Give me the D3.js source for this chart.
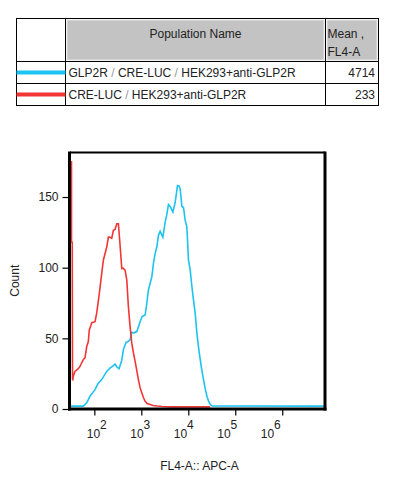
<!DOCTYPE html>
<html>
<head>
<meta charset="utf-8">
<script src="https://d3js.org/d3.v7.min.js"></script>
<style>
  body { margin: 0; background: #fff; }
  text { font-family: "Liberation Sans", Arial, sans-serif; }
</style>
</head>
<body>
<div id="my_dataviz"></div>
<script>

// populations shown in the table
var popNames = ["GLP2R / CRE-LUC / HEK293+anti-GLP2R", "CRE-LUC / HEK293+anti-GLP2R"]
var popMeans = ["4714", "233"]
var popColors = ["#1cc3f0", "#f23636"]

// histogram traces: x as log10(FL4-A), y as count
var cyanLog = [1.482,1.765,1.838,1.908,2.015,2.079,2.158,2.264,2.335,2.405,2.441,2.484,2.527,2.584,2.618,2.676,2.725,2.761,2.797,2.846,2.904,2.938,2.974,3.017,3.081,3.113,3.151,3.224,3.262,3.294,3.330,3.365,3.401,3.458,3.507,3.539,3.578,3.614,3.672,3.721,3.770,3.806,3.827,3.864,3.898,3.934,3.970,4.004,4.041,4.077,4.111,4.147,4.183,4.217,4.254,4.290,4.324,4.360,4.397,4.431,4.467,4.510,6.906]
var cyanCount = [2,2,4.4,9,13.7,18,20.8,26.6,29,30.6,31.8,29.6,28.5,34.5,41.9,47.2,47.9,48.9,54.2,53.9,54.8,58.1,61.8,65.4,66.5,73.6,84.2,93.5,103.9,110,114.6,122.9,125.7,121.5,132,137,144.7,143.3,139.3,146.3,158.1,157.7,155.8,143.3,142.6,133.5,128.7,105.3,98.2,86.5,77.1,67.7,53.7,44,34.9,27.1,20.8,14.4,9,5.6,3.2,2.1,2]

var redLog = [1.503,1.514,1.514,1.530,1.536,1.541,1.552,1.588,1.659,1.695,1.731,1.765,1.802,1.838,1.872,1.893,1.923,1.945,2.015,2.051,2.107,2.158,2.192,2.264,2.299,2.320,2.371,2.405,2.441,2.478,2.512,2.548,2.584,2.612,2.655,2.691,2.725,2.761,2.797,2.832,2.868,2.904,2.938,2.974,3.011,3.045,3.081,3.124,3.188,3.250,3.337,3.440,3.610,4.467]
var redCount = [175,175,118,118,21,20.8,23.1,26.6,28.5,30.1,32.7,34.9,36.3,44.2,47.7,56,58.8,61.1,61.8,68,82,96.1,105.3,114.6,121.7,121.7,120.8,126.4,127.1,131.1,131.1,115.8,99.4,99.6,98.2,91.2,72.4,58.3,46.6,39.8,33.7,27.1,20.8,15.1,11.4,8.1,5.5,3.9,3.2,2.5,2.1,1.8,1.5,1.5]

// axis ticks
var yMajor = [0, 50, 100, 150]
var yMinor = [10,20,30,40,60,70,80,90,110,120,130,140,160,170,180]
var xDecades = [2, 3, 4, 5, 6]

var W = 396, H = 483
var plot = {left: 70, right: 325, top: 152.5, bottom: 409}

var svg = d3.select("#my_dataviz")
  .append("svg")
    .attr("width", W)
    .attr("height", H)

// ---------- table ----------
var tbl = {x0: 16.5, x1: 65.5, x2: 325.5, x3: 378.5, y0: 18.5, y1: 61.5, y2: 83.5, y3: 105.5}
var t = svg.append("g")

// gray header cells
t.append("rect").attr("x", tbl.x1 + 1.5).attr("y", tbl.y0 + 1.5)
  .attr("width", tbl.x2 - tbl.x1 - 3).attr("height", tbl.y1 - tbl.y0 - 3)
  .attr("fill", "#c3c3c3").attr("stroke", "#e4e4e4").attr("stroke-width", 1)
t.append("rect").attr("x", tbl.x2 + 1.5).attr("y", tbl.y0 + 1.5)
  .attr("width", tbl.x3 - tbl.x2 - 3).attr("height", tbl.y1 - tbl.y0 - 3)
  .attr("fill", "#c3c3c3").attr("stroke", "#e4e4e4").attr("stroke-width", 1)

// grid
t.append("rect").attr("x", tbl.x0).attr("y", tbl.y0)
  .attr("width", tbl.x3 - tbl.x0).attr("height", tbl.y3 - tbl.y0)
  .attr("fill", "none").attr("stroke", "#000")
;[[tbl.x1, tbl.y0, tbl.x1, tbl.y3], [tbl.x2, tbl.y0, tbl.x2, tbl.y3],
  [tbl.x0, tbl.y1, tbl.x3, tbl.y1], [tbl.x0, tbl.y2, tbl.x3, tbl.y2]].forEach(function(l) {
  t.append("line").attr("x1", l[0]).attr("y1", l[1]).attr("x2", l[2]).attr("y2", l[3])
    .attr("stroke", "#000")
})

t.append("text").attr("x", (tbl.x1 + tbl.x2) / 2).attr("y", 37.5)
  .attr("text-anchor", "middle").style("font-size", "12px").attr("fill", "#222")
  .text("Population Name")
t.append("text").attr("x", tbl.x2 + 2).attr("y", 37.5)
  .style("font-size", "12px").attr("fill", "#222").text("Mean ,")
t.append("text").attr("x", tbl.x2 + 2).attr("y", 56)
  .style("font-size", "12px").attr("fill", "#222").text("FL4-A")

var rowY = [(tbl.y1 + tbl.y2) / 2, (tbl.y2 + tbl.y3) / 2]
popNames.forEach(function(name, i) {
  t.append("line")
    .attr("x1", tbl.x0).attr("x2", tbl.x1)
    .attr("y1", rowY[i]).attr("y2", rowY[i])
    .attr("stroke", popColors[i]).attr("stroke-width", 4)
  var txt = t.append("text").attr("x", tbl.x1 + 3).attr("y", rowY[i] + 4.5)
    .style("font-size", "12px").attr("fill", "#222")
  name.split(" / ").forEach(function(part, j) {
    if (j > 0) txt.append("tspan").attr("fill", "#999").text(" / ")
    txt.append("tspan").text(part)
  })
  t.append("text").attr("x", tbl.x3 - 3.5).attr("y", rowY[i] + 4.5)
    .attr("text-anchor", "end").style("font-size", "12px").attr("fill", "#222")
    .text(popMeans[i])
})

// ---------- histogram ----------
var x = d3.scaleLog()
  .domain([Math.pow(10, 1.482), Math.pow(10, 6.91)])
  .range([plot.left, plot.right])

var y = d3.scaleLinear()
  .domain([0, 181.5])
  .range([plot.bottom, plot.top])

// tick labels of this cytometer are spaced a bit tighter than the ticks
var xLabel = d3.scaleLog()
  .domain([100, 1e6])
  .range([x(100) - 7.6, x(1e6) - 21.5])

svg.append("clipPath").attr("id", "clip")
  .append("rect").attr("x", plot.left).attr("y", plot.top)
  .attr("width", plot.right - plot.left).attr("height", plot.bottom - plot.top)

var line = d3.line()
  .x(function(d) { return x(Math.pow(10, d[0])) })
  .y(function(d) { return y(d[1]) })

var series = [
  {color: popColors[0], pts: d3.zip(cyanLog, cyanCount)},
  {color: popColors[1], pts: d3.zip(redLog, redCount)}
]

svg.append("g").attr("clip-path", "url(#clip)")
  .selectAll("path")
  .data(series)
  .enter()
  .append("path")
    .attr("d", function(d) { return line(d.pts) })
    .attr("fill", "none")
    .attr("stroke", function(d) { return d.color })
    .attr("stroke-width", 1.6)

// Y axis
var yAx = svg.append("g").attr("transform", "translate(" + (plot.left - 0.5) + ",0)")
yAx.call(d3.axisLeft(y).tickValues(yMinor).tickSize(4).tickFormat(""))
yAx.call(d3.axisLeft(y).tickValues(yMajor).tickSize(7).tickPadding(4))
yAx.selectAll(".domain").remove()
yAx.selectAll("line").attr("stroke", "#000").attr("stroke-width", 1.2)
yAx.selectAll("text").style("font-size", "12px").attr("fill", "#222")
  .style("font-family", "'Liberation Sans', Arial, sans-serif")

// X axis
var xMinor = []
for (var e = 2; e <= 6; e++) {
  for (var m = 2; m <= 9; m++) {
    var v = m * Math.pow(10, e)
    if (v <= x.domain()[1]) xMinor.push(v)
  }
}
var xMajor = xDecades.map(function(k) { return Math.pow(10, k) })

var xAx = svg.append("g").attr("transform", "translate(0," + plot.bottom + ")")
xAx.call(d3.axisBottom(x).tickValues(xMinor).tickSize(4).tickFormat(""))
xAx.call(d3.axisBottom(x).tickValues(xMajor).tickSize(6.5).tickFormat(""))
xAx.selectAll(".domain").remove()
xAx.selectAll("line").attr("stroke", "#000").attr("stroke-width", 1.2)

var xl = svg.append("g")
xDecades.forEach(function(k) {
  var lab = xl.append("text")
    .attr("x", xLabel(Math.pow(10, k)))
    .attr("y", 437.5)
    .style("font-size", "12px").attr("fill", "#222")
  lab.append("tspan").text("10")
  lab.append("tspan").attr("dy", -8.5).text(k)
})

// frame
svg.append("line").attr("x1", plot.left).attr("x2", plot.right)
  .attr("y1", plot.top).attr("y2", plot.top).attr("stroke", "#000").attr("stroke-width", 2)
svg.append("line").attr("x1", plot.right).attr("x2", plot.right)
  .attr("y1", plot.top - 1).attr("y2", plot.bottom + 1.5).attr("stroke", "#000").attr("stroke-width", 3)
svg.append("line").attr("x1", plot.left - 0.5).attr("x2", plot.left - 0.5)
  .attr("y1", plot.top - 1).attr("y2", plot.bottom + 1.5).attr("stroke", "#000").attr("stroke-width", 3)
svg.append("line").attr("x1", plot.left - 2).attr("x2", plot.right + 1.5)
  .attr("y1", plot.bottom).attr("y2", plot.bottom).attr("stroke", "#000").attr("stroke-width", 3)

// axis titles
svg.append("text")
  .attr("transform", "translate(19," + ((plot.top + plot.bottom) / 2) + ") rotate(-90)")
  .attr("text-anchor", "middle").style("font-size", "12px").attr("fill", "#222")
  .text("Count")

svg.append("text")
  .attr("x", (plot.left + plot.right) / 2 + 2).attr("y", 469.5)
  .attr("text-anchor", "middle").style("font-size", "12px").attr("fill", "#222")
  .text("FL4-A:: APC-A")

</script>
</body>
</html>
